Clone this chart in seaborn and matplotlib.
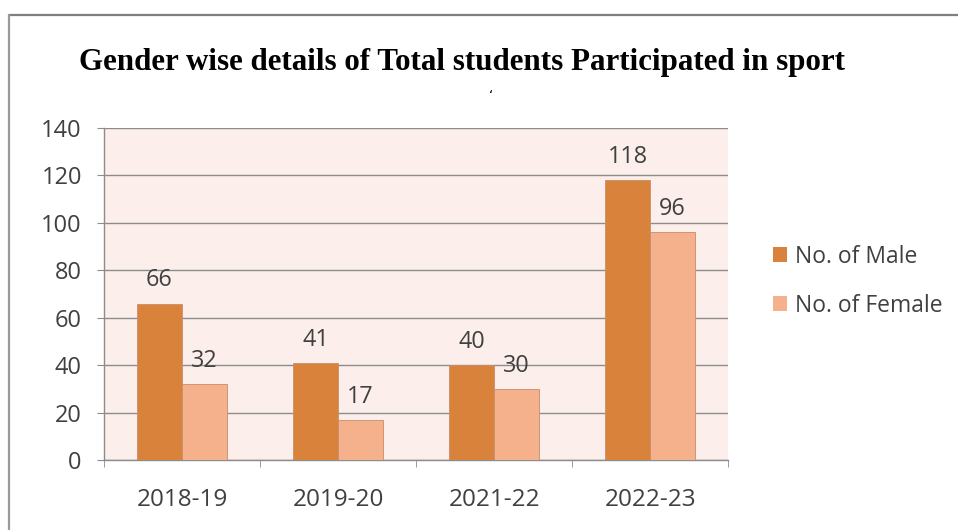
import pandas as pd
import matplotlib.pyplot as plt
import seaborn as sns
from matplotlib.lines import Line2D

# Chart data
years = ['2018-19', '2019-20', '2021-22', '2022-23']
male = [66, 41, 40, 118]
female = [32, 17, 30, 96]
series_names = ['No. of Male', 'No. of Female']
y_ticks = [0, 20, 40, 60, 80, 100, 120, 140]

df = pd.DataFrame({
    'Year': years * 2,
    'Count': male + female,
    'Series': [series_names[0]] * len(years) + [series_names[1]] * len(years),
})

sns.set_style('white')
plt.rcParams['font.family'] = ['Open Sans', 'DejaVu Sans']

fig = plt.figure(figsize=(9.58, 5.30), dpi=100)
ax = fig.add_axes([0.1086, 0.132, 0.6514, 0.6265])
ax.set_facecolor('#fcefeb')

palette = {series_names[0]: '#d9823b', series_names[1]: '#f5b18b'}
sns.barplot(data=df, x='Year', y='Count', hue='Series', palette=palette,
            width=0.58, gap=0, edgecolor='#c98c6c', linewidth=0.6,
            saturation=1, ax=ax, legend=False, zorder=3)

for cont in ax.containers:
    ax.bar_label(cont, padding=8, fontsize=16.8, color='#404040')

ax.set_ylim(0, 140)
ax.set_yticks(y_ticks)
ax.set_xlim(-0.5, 3.5)
ax.yaxis.grid(True, color='#8c8c8c', linewidth=1, zorder=0)
ax.set_axisbelow(True)
ax.set_xlabel('')
ax.set_ylabel('')
for s in ['top', 'right']:
    ax.spines[s].set_visible(False)
for s in ['left', 'bottom']:
    ax.spines[s].set_color('#8c8c8c')
    ax.spines[s].set_linewidth(1)

ax.tick_params(axis='y', length=5, color='#8c8c8c', labelsize=17,
               labelcolor='#404040', pad=11, direction='out', left=True)
ax.tick_params(axis='x', which='major', length=0, labelsize=17.5,
               labelcolor='#404040', pad=20)
ax.set_xticks([-0.5, 0.5, 1.5, 2.5, 3.5], minor=True)
ax.tick_params(axis='x', which='minor', length=5, color='#8c8c8c',
               direction='out', bottom=True)

handles = [plt.Rectangle((0, 0), 1, 1, facecolor=palette[n], edgecolor='none')
           for n in series_names]
fig.legend(handles, series_names, loc='upper left',
           bbox_to_anchor=(0.785, 0.577), frameon=False, fontsize=16.5,
           handlelength=0.62, handleheight=0.62, handletextpad=0.35,
           labelspacing=1.09, labelcolor='#404040')

fig.text(0.482, 0.883, 'Gender wise details of Total students Participated in sport',
         ha='center', va='center', fontsize=22.3, fontweight='bold',
         family='Liberation Serif', color='black')
fig.text(0.513, 0.818, '\u02bb', ha='center', va='center', fontsize=10,
         family='DejaVu Sans', color='black')

# outer frame (top and left edges only)
fig.add_artist(Line2D([0.0089, 1.0], [0.9726, 0.9726], color='#7f7f7f', linewidth=1.6))
fig.add_artist(Line2D([0.0089, 0.0089], [0.0, 0.9726], color='#9a9a9a', linewidth=1.6))

fig.savefig('out.png', dpi=100, facecolor='white')
